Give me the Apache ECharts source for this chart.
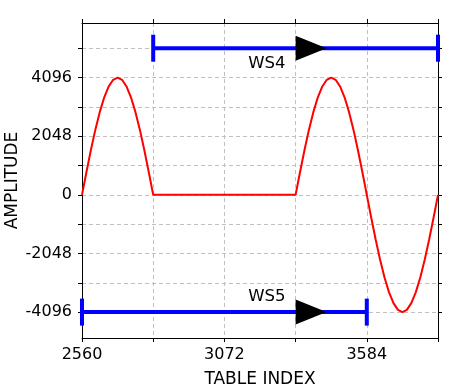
<!DOCTYPE html>
<html><head><meta charset="utf-8">
<script src="https://cdn.jsdelivr.net/npm/echarts@6/dist/echarts.min.js"></script>
<style>html,body{margin:0;padding:0;background:#fff}#c{width:472px;height:388px}</style>
</head><body><div id="c"></div>
<script>
// ---- data ----
const tableIndex = [2560,2576,2592,2608,2624,2640,2656,2672,2688,2704,2720,2736,2752,2768,2784,2800,2816,
  3328,3344,3360,3376,3392,3408,3424,3440,3456,3472,3488,3504,3520,3536,3552,3568,3584,
  3600,3616,3632,3648,3664,3680,3696,3712,3728,3744,3760,3776,3792,3808,3824,3840];
const amplitude = [0,799,1567,2276,2896,3406,3784,4017,4096,4017,3784,3406,2896,2276,1567,799,0,
  0,799,1567,2276,2896,3406,3784,4017,4096,4017,3784,3406,2896,2276,1567,799,0,
  -799,-1567,-2276,-2896,-3406,-3784,-4017,-4096,-4017,-3784,-3406,-2896,-2276,-1567,-799,0];
const windowNames = ['WS4','WS5'];
const windowStart = [2816, 2560];
const windowEnd = [3840, 3584];
const windowLevel = [5120, -4096];
const arrowIndex = [3328, 3328];
const labelIndex = [3225, 3225];
const labelLevel = [4590, -3560];
const xTicks = [2560, 2816, 3072, 3328, 3584, 3840];
const xLabels = [2560, 3072, 3584];
const yTicks = [-4096, -3072, -2048, -1024, 0, 1024, 2048, 3072, 4096, 5120];
const yLabels = [-4096, -2048, 0, 2048, 4096];
const xRange = [2560, 3840];
const yRange = [-5000, 6000];

// ---- chart ----
const FONT = 'DejaVu Sans';
const chart = echarts.init(document.getElementById('c'), null, {renderer: 'canvas'});
const lineAxis = {onZero: false, lineStyle: {color: '#000', width: 1}};
const tick = {show: true, length: 4, lineStyle: {color: '#000'}};
const grid = {show: true, lineStyle: {color: '#c0c0c0', type: [4, 3], width: 1}};
const plain = v => String(v);

const series = [{
  type: 'line',
  data: tableIndex.map((x, i) => [x, amplitude[i]]),
  showSymbol: false, symbol: 'none',
  lineStyle: {color: '#ff0000', width: 2},
  z: 2, animation: false
}];
windowNames.forEach((n, i) => {
  series.push({
    type: 'line',
    data: [[windowStart[i], windowLevel[i]], [windowEnd[i], windowLevel[i]]],
    symbol: 'rect', symbolSize: [4, 27], showSymbol: true, clip: false,
    itemStyle: {color: '#0000ff', opacity: 1},
    lineStyle: {color: '#0000ff', width: 4},
    z: 3, animation: false
  });
});
series.push({
  type: 'scatter',
  data: arrowIndex.map((x, i) => [x, windowLevel[i]]),
  symbol: 'path://M0,0L10,5L0,10Z', symbolSize: [31, 25], symbolOffset: ['50%', 0],
  itemStyle: {color: '#000', opacity: 1}, z: 4, animation: false, clip: false
});
series.push({
  type: 'scatter',
  data: labelIndex.map((x, i) => [x, labelLevel[i], windowNames[i]]),
  symbolSize: 1,
  itemStyle: {color: 'rgba(0,0,0,0)'},
  label: {show: true, position: 'inside', formatter: p => p.data[2],
    color: '#000', opacity: 1, textBorderWidth: 0, fontFamily: FONT, fontSize: 16.5},
  emphasis: {disabled: true},
  z: 5, animation: false
});

chart.setOption({
  animation: false,
  backgroundColor: '#fff',
  grid: {left: 82, top: 23, right: 34, bottom: 50, containLabel: false, outerBoundsMode: 'none'},
  xAxis: [{
    type: 'value', min: xRange[0], max: xRange[1], interval: 256,
    axisLine: lineAxis, axisTick: Object.assign({customValues: xTicks}, tick),
    axisLabel: {customValues: xLabels, formatter: plain, color: '#000', fontFamily: FONT, fontSize: 16, margin: 9},
    splitLine: grid,
    name: 'TABLE INDEX', nameLocation: 'middle', nameGap: 33, nameMoveOverlap: false,
    nameTextStyle: {color: '#000', fontFamily: FONT, fontSize: 17}
  }, {
    type: 'value', position: 'top', min: xRange[0], max: xRange[1], interval: 256,
    axisLine: lineAxis, axisTick: Object.assign({customValues: xTicks}, tick),
    axisLabel: {show: false}, splitLine: {show: false}
  }],
  yAxis: [{
    type: 'value', min: yRange[0], max: yRange[1],
    axisLine: lineAxis, axisTick: Object.assign({customValues: yTicks}, tick),
    axisLabel: {customValues: yLabels, formatter: plain, color: '#000', fontFamily: FONT, fontSize: 16, margin: 10},
    splitLine: grid,
    name: 'AMPLITUDE', nameLocation: 'middle', nameGap: 61, nameMoveOverlap: false,
    nameTextStyle: {color: '#000', fontFamily: FONT, fontSize: 17}
  }, {
    type: 'value', position: 'right', min: yRange[0], max: yRange[1],
    axisLine: lineAxis, axisTick: Object.assign({customValues: yTicks}, tick),
    axisLabel: {show: false}, splitLine: {show: false}
  }],
  series: series
});
</script></body></html>
